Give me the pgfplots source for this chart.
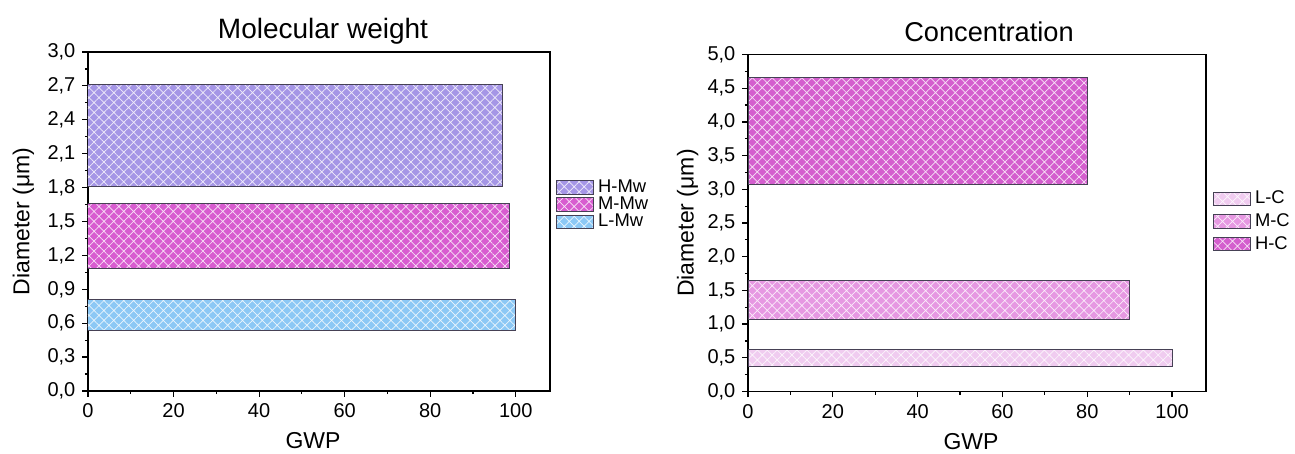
\documentclass[border=0pt]{standalone}
\usepackage{pgfplots}
\pgfplotsset{compat=1.18}
\usepackage{fontspec}
\setmainfont{Liberation Sans}
\usetikzlibrary{patterns.meta}
\definecolor{hmw}{RGB}{165,150,230}
\definecolor{mmw}{RGB}{216,92,208}
\definecolor{lmw}{RGB}{140,200,245}
\definecolor{lc}{RGB}{240,204,240}
\definecolor{mc}{RGB}{230,152,226}
\definecolor{hc}{RGB}{212,94,206}
\definecolor{edge}{RGB}{70,65,85}
\pgfplotsset{
  hbar/.style={xbar, bar shift=0pt, draw=edge, line width=0.5pt, fill=#1,
    postaction={pattern={Hatch[angle=45,distance=3.5pt,line width=0.35pt]}, pattern color=white!82!#1}},
  panel/.style={
    scale only axis, anchor=south west,
    xmin=0, xmax=108, ymin=0,
    axis line style={line width=0.9pt, black},
    tick align=outside, tick pos=left,
    major tick length=2.8pt, minor tick length=1.6pt,
    every tick/.style={black, line width=0.6pt},
    xtick={0,20,40,60,80,100}, minor x tick num=1,
    minor y tick num=1,
    tick label style={font=\fontsize{10pt}{12pt}\selectfont},
    /pgf/number format/assume math mode=true,
    yticklabel style={/pgf/number format/.cd, fixed, fixed zerofill, precision=1, use comma},
    xticklabel style={/pgf/number format/.cd, fixed, precision=0},
    xlabel style={font=\fontsize{11.5pt}{13pt}\selectfont, at={(axis description cs:0.5,0)}, anchor=center, yshift=-25pt, xshift=-3pt},
    ylabel style={font=\fontsize{11.5pt}{13pt}\selectfont, anchor=center},
    title style={at={(axis description cs:0.5,1)}, anchor=base},
    legend cell align=left,
    legend style={draw=none, fill=none, inner sep=0pt,
      font=\fontsize{9.2pt}{10pt}\selectfont, nodes={inner sep=0.6pt}},
    legend image code/.code={\draw[#1] (0pt,-3.4pt) rectangle (18.5pt,3.4pt);},
  }
}
\begin{document}
\begin{tikzpicture}
\useasboundingbox (0pt,0pt) rectangle (647.5pt,227pt);
\begin{axis}[panel, at={(44pt,31.5pt)}, width=231pt, height=169.5pt,
  ymax=3, ytick={0,0.3,0.6,0.9,1.2,1.5,1.8,2.1,2.4,2.7,3.0},
  title={Molecular weight}, xlabel={GWP}, ylabel={Diameter (μm)},
  title style={font=\fontsize{14pt}{16pt}\selectfont, yshift=0.5pt, xshift=2pt},
  ylabel style={at={(axis description cs:-0.14,0.5)}},
  legend style={at={(axis description cs:1.012,0.628)}, anchor=north west, row sep=-0.4pt}]
\addplot[hbar=hmw, bar width=0.906] coordinates {(96.9,2.261)};
\addlegendentry{\hspace{1.5pt}H-Mw}
\addplot[hbar=mmw, bar width=0.573] coordinates {(98.5,1.3685)};
\addlegendentry{\hspace{1.5pt}M-Mw}
\addplot[hbar=lmw, bar width=0.277] coordinates {(100,0.6725)};
\addlegendentry{\hspace{1.5pt}L-Mw}
\end{axis}
\begin{axis}[panel, at={(374pt,31.25pt)}, width=229pt, height=168.5pt,
  ymax=5, ytick={0,0.5,1,1.5,2,2.5,3,3.5,4,4.5,5},
  title={Concentration}, xlabel={GWP}, ylabel={Diameter (μm)},
  title style={font=\fontsize{13.6pt}{16pt}\selectfont, yshift=0.5pt, xshift=6pt},
  ylabel style={at={(axis description cs:-0.132,0.5)}},
  legend style={at={(axis description cs:1.014,0.6)}, anchor=north west, row sep=2.2pt}]
\addplot[hbar=lc, bar width=0.242] coordinates {(100,0.499)};
\addlegendentry{\hspace{1.5pt}L-C}
\addplot[hbar=mc, bar width=0.574] coordinates {(90,1.362)};
\addlegendentry{\hspace{1.5pt}M-C}
\addplot[hbar=hc, bar width=1.59] coordinates {(80,3.865)};
\addlegendentry{\hspace{1.5pt}H-C}
\end{axis}
\end{tikzpicture}
\end{document}
